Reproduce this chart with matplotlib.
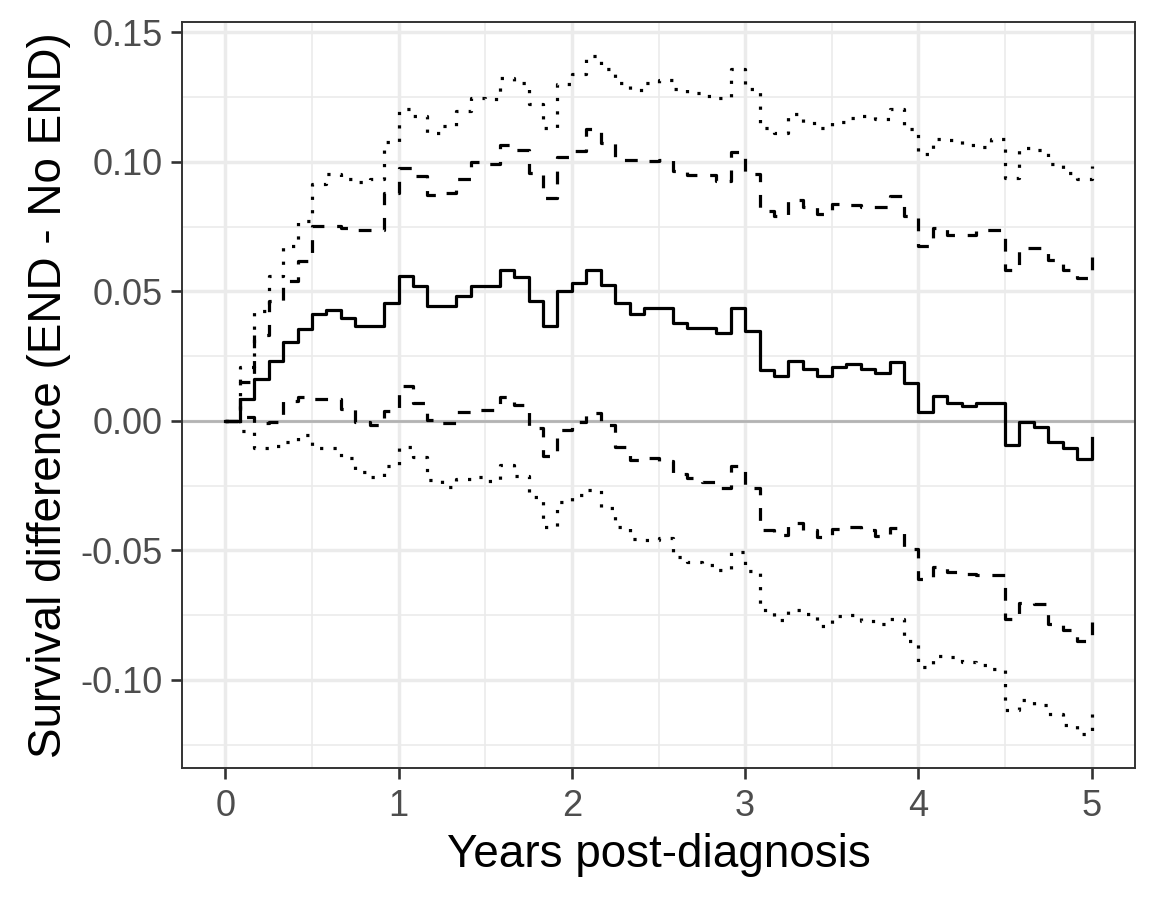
import numpy as np
import matplotlib
matplotlib.use("Agg")
import matplotlib.pyplot as plt
from matplotlib.ticker import MultipleLocator

# monthly step times, 0 .. 5 years
months = np.arange(61) / 12.0

# survival difference (END - No END)
diff = [0.0, 0.0084, 0.0161, 0.0233, 0.0303, 0.0354, 0.0414, 0.0427, 0.0397, 0.0365,
        0.0365, 0.0457, 0.0558, 0.0519, 0.0442, 0.0442, 0.0483, 0.0519, 0.0519, 0.0581,
        0.0555, 0.0461, 0.0367, 0.0500, 0.0532, 0.0581, 0.0526, 0.0455, 0.0414, 0.0436,
        0.0436, 0.0378, 0.0358, 0.0358, 0.0339, 0.0436, 0.0349, 0.0197, 0.0174, 0.0233,
        0.0200, 0.0174, 0.0210, 0.0220, 0.0200, 0.0184, 0.0226, 0.0146, 0.0036, 0.0097,
        0.0068, 0.0058, 0.0071, 0.0071, -0.0093, -0.0006, -0.0024, -0.0080, -0.0106, -0.0148,
        -0.0067]

# inner band (dashed)
upper_dash = [0.0, 0.0150, 0.0332, 0.0461, 0.0539, 0.0616, 0.0751, 0.0751, 0.0745, 0.0736,
              0.0736, 0.0880, 0.0977, 0.0945, 0.0874, 0.0880, 0.0934, 0.0999, 0.0990, 0.1067,
              0.1045, 0.0958, 0.0861, 0.1020, 0.1041, 0.1125, 0.1074, 0.1009, 0.1009, 0.1003,
              0.1009, 0.0964, 0.0951, 0.0951, 0.0925, 0.1039, 0.0955, 0.0810, 0.0790, 0.0854,
              0.0825, 0.0799, 0.0839, 0.0835, 0.0826, 0.0826, 0.0867, 0.0790, 0.0674, 0.0745,
              0.0719, 0.0719, 0.0736, 0.0736, 0.0581, 0.0668, 0.0668, 0.0622, 0.0584, 0.0552,
              0.0642]
lower_dash = [0.0, 0.0015, -0.0009, -0.0003, 0.0075, 0.0094, 0.0084, 0.0084, 0.0047, -0.0006,
              -0.0015, 0.0040, 0.0135, 0.0068, 0.0004, -0.0009, 0.0036, 0.0043, 0.0043, 0.0094,
              0.0062, -0.0028, -0.0135, -0.0035, -0.0006, 0.0030, -0.0015, -0.0100, -0.0151, -0.0145,
              -0.0153, -0.0205, -0.0222, -0.0235, -0.0260, -0.0174, -0.0260, -0.0422, -0.0441, -0.0396,
              -0.0422, -0.0448, -0.0416, -0.0409, -0.0420, -0.0445, -0.0415, -0.0493, -0.0610, -0.0564,
              -0.0583, -0.0590, -0.0596, -0.0596, -0.0763, -0.0702, -0.0705, -0.0783, -0.0809, -0.0848,
              -0.0777]

# outer band (dotted)
upper_dot = [0.0, 0.0210, 0.0423, 0.0560, 0.0674, 0.0771, 0.0916, 0.0955, 0.0934, 0.0923,
             0.0932, 0.1077, 0.1205, 0.1177, 0.1112, 0.1138, 0.1196, 0.1245, 0.1244, 0.1322,
             0.1305, 0.1222, 0.1131, 0.1299, 0.1338, 0.1409, 0.1357, 0.1305, 0.1276, 0.1305,
             0.1318, 0.1280, 0.1264, 0.1256, 0.1245, 0.1360, 0.1280, 0.1131, 0.1112, 0.1186,
             0.1151, 0.1131, 0.1155, 0.1170, 0.1179, 0.1164, 0.1205, 0.1128, 0.1031, 0.1090,
             0.1084, 0.1065, 0.1058, 0.1090, 0.0938, 0.1054, 0.1044, 0.0990, 0.0958, 0.0934,
             0.0986]
lower_dot = [0.0, -0.0040, -0.0106, -0.0097, -0.0083, -0.0054, -0.0106, -0.0106, -0.0142, -0.0196,
             -0.0215, -0.0174, -0.0099, -0.0138, -0.0228, -0.0257, -0.0224, -0.0215, -0.0231, -0.0170,
             -0.0212, -0.0293, -0.0409, -0.0312, -0.0286, -0.0267, -0.0338, -0.0409, -0.0454, -0.0458,
             -0.0451, -0.0525, -0.0544, -0.0557, -0.0577, -0.0506, -0.0579, -0.0731, -0.0770, -0.0729,
             -0.0744, -0.0790, -0.0755, -0.0748, -0.0773, -0.0786, -0.0764, -0.0848, -0.0951, -0.0906,
             -0.0912, -0.0932, -0.0941, -0.0957, -0.1118, -0.1077, -0.1095, -0.1131, -0.1173, -0.1209,
             -0.1130]

x_ticks = [0, 1, 2, 3, 4, 5]
y_ticks = [-0.10, -0.05, 0.00, 0.05, 0.10, 0.15]

plt.rcParams['font.family'] = ['Liberation Sans', 'DejaVu Sans']

fig = plt.figure(figsize=(11.59, 9.0), dpi=100)
ax = fig.add_axes([182 / 1159, 1 - 768 / 900, (1135 - 182) / 1159, (768 - 22) / 900])

# grid like theme_bw
ax.set_axisbelow(True)
ax.xaxis.set_minor_locator(MultipleLocator(0.5))
ax.yaxis.set_minor_locator(MultipleLocator(0.025))
ax.grid(which='major', color='#EBEBEB', linewidth=2.5)
ax.grid(which='minor', color='#EBEBEB', linewidth=1.2)
ax.tick_params(which='minor', length=0)

ax.axhline(0, color='#B3B3B3', linewidth=2.0, zorder=1.5)

lw = 2.3
ax.step(months, upper_dot, where='post', color='black', linewidth=lw, linestyle=(0, (1, 3.2)))
ax.step(months, lower_dot, where='post', color='black', linewidth=lw, linestyle=(0, (1, 3.2)))
ax.step(months, upper_dash, where='post', color='black', linewidth=lw, linestyle=(0, (4, 4)))
ax.step(months, lower_dash, where='post', color='black', linewidth=lw, linestyle=(0, (4, 4)))
ax.step(months, diff, where='post', color='black', linewidth=lw)

ax.set_xlim(-0.25, 5.25)
ax.set_ylim(-0.1340, 0.1540)
ax.set_xticks(x_ticks)
ax.set_xticklabels([str(t) for t in x_ticks])
ax.set_yticks(y_ticks)
ax.set_yticklabels(['%.2f' % v for v in y_ticks])

ax.tick_params(which='major', length=7.9, width=1.9, color='#333333',
               labelsize=26, labelcolor='#4D4D4D')
ax.tick_params(axis='x', pad=7)
ax.tick_params(axis='y', pad=6)
for s in ax.spines.values():
    s.set_color('#333333')
    s.set_linewidth(1.4)

ax.set_xlabel('Years post-diagnosis', fontsize=33, color='black', labelpad=7)
ax.set_ylabel('Survival difference (END - No END)', fontsize=33, color='black', labelpad=7)

fig.savefig('out.png', dpi=100)
